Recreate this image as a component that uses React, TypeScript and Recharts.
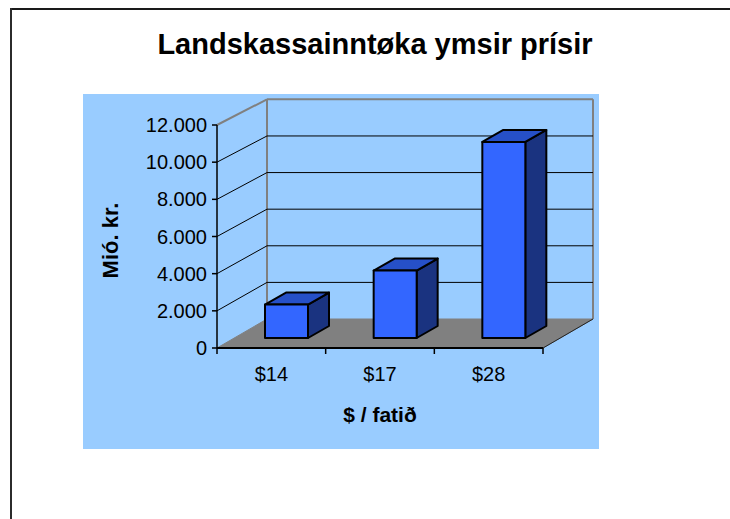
import { BarChart, Bar, XAxis, YAxis, CartesianGrid } from "recharts";

// prices per barrel and the matching state revenue (mió. kr.)
const categories = ["$14", "$17", "$28"];
const revenue = [1800, 3630, 10550];
const yTicks = [0, 2000, 4000, 6000, 8000, 10000, 12000];

const chartData = categories.map((name, i) => ({ name, value: revenue[i] }));

const FONT = "'Liberation Sans', Arial, Helvetica, sans-serif";
const BG = "#99CCFF";
const WALL_LINE = "#808080";
const FLOOR = "#808080";

// chart geometry
const CHART_W = 516;
const CHART_H = 355;
const MARGIN = { top: 31, right: 56, bottom: 0, left: 0 };
const Y_AXIS_W = 134;
const X_AXIS_H = 101;
const PLOT_TOP = MARGIN.top;
const PLOT_BOTTOM = CHART_H - MARGIN.bottom - X_AXIS_H;

// fake 3D: offset of the back wall, and where the bars sit in the depth
const WALL_DX = 50;
const WALL_DY = 29;
const BAR_DX = 15;
const BAR_DY = 10;
const DEPTH_DX = 21;
const DEPTH_DY = 12;

const X_TICK_SIZE = 6;
const X_TICK_MARGIN = 13;

const formatThousands = (v: number) =>
  v.toString().replace(/\B(?=(\d{3})+(?!\d))/g, ".");

// back wall is a touch smaller than the front plane
const backY = (y: number, bottom: number) => y - WALL_DY + (bottom - y) * 0.015;

function renderWallLine(p: any) {
  const { x1, x2, y1 } = p;
  const top = typeof p.y === "number" ? p.y : PLOT_TOP;
  const bottom = typeof p.height === "number" ? top + p.height : PLOT_BOTTOM;
  const by = backY(y1, bottom);
  const isTop = Math.abs(y1 - top) < 0.5;
  const isBottom = Math.abs(y1 - bottom) < 0.5;

  if (isBottom) {
    const topBack = backY(top, bottom);
    return (
      <g key={p.key}>
        <line x1={x1 + WALL_DX} y1={topBack} x2={x1 + WALL_DX} y2={by} stroke={WALL_LINE} strokeWidth={2} />
        <line x1={x2 + WALL_DX} y1={topBack} x2={x2 + WALL_DX} y2={by} stroke={WALL_LINE} strokeWidth={2} />
        <polygon
          points={`${x1},${y1} ${x2},${y1} ${x2 + WALL_DX},${by} ${x1 + WALL_DX},${by}`}
          fill={FLOOR}
          stroke={FLOOR}
          strokeWidth={1}
        />
        <line x1={x2} y1={y1} x2={x2 + WALL_DX} y2={by} stroke="#222" strokeWidth={1} />
      </g>
    );
  }

  const color = isTop ? WALL_LINE : "#000";
  const w = isTop ? 2 : 1;
  return (
    <g key={p.key}>
      <line x1={x1} y1={y1} x2={x1 + WALL_DX} y2={by} stroke={color} strokeWidth={w} />
      <line x1={x1 + WALL_DX} y1={by} x2={x2 + WALL_DX} y2={by} stroke={color} strokeWidth={w} />
    </g>
  );
}

function Bar3D(props: any) {
  const { x, y, width, height } = props;
  if (x == null || y == null) return null;
  const fx = x + BAR_DX;
  const r = fx + width;
  const top = y - BAR_DY;
  const bottom = y + height - BAR_DY;
  return (
    <g stroke="#000" strokeWidth={2} strokeLinejoin="round">
      <polygon
        points={`${r},${top} ${r + DEPTH_DX},${top - DEPTH_DY} ${r + DEPTH_DX},${bottom - DEPTH_DY} ${r},${bottom}`}
        fill="#1A3380"
      />
      <polygon
        points={`${fx},${top} ${fx + DEPTH_DX},${top - DEPTH_DY} ${r + DEPTH_DX},${top - DEPTH_DY} ${r},${top}`}
        fill="#2650C8"
      />
      <rect x={fx} y={top} width={width} height={bottom - top} fill="#3366FF" />
    </g>
  );
}

// category ticks sit on the band edges, labels in the middle
function XTick(props: any) {
  const { x, y, payload, index, visibleTicksCount } = props;
  const half = payload && typeof payload.offset === "number" && payload.offset > 0 ? payload.offset : 54.33;
  const ay = y - X_TICK_SIZE - X_TICK_MARGIN;
  return (
    <g>
      <line x1={x - half} y1={ay} x2={x - half} y2={ay + X_TICK_SIZE} stroke="#000" strokeWidth={1.5} />
      {index === visibleTicksCount - 1 && (
        <line x1={x + half} y1={ay} x2={x + half} y2={ay + X_TICK_SIZE} stroke="#000" strokeWidth={1.5} />
      )}
      <text x={x} y={y} dy="0.71em" textAnchor="middle" fontSize={20} fontFamily={FONT} fill="#000">
        {payload.value}
      </text>
    </g>
  );
}

function YTitle({ viewBox }: any) {
  const vb = viewBox && typeof viewBox.x === "number"
    ? viewBox
    : { x: 0, y: PLOT_TOP, width: Y_AXIS_W, height: PLOT_BOTTOM - PLOT_TOP };
  const cx = vb.x + 27;
  const cy = vb.y + vb.height / 2 + 4;
  return (
    <text
      x={cx}
      y={cy}
      transform={`rotate(-90, ${cx}, ${cy})`}
      textAnchor="middle"
      dominantBaseline="central"
      fontFamily={FONT}
      fontSize={22}
      fontWeight="bold"
      fill="#000"
    >
      Mió. kr.
    </text>
  );
}

export default function App() {
  return (
    <div style={{ position: "absolute", left: 0, top: 0, width: 730, height: 519, overflow: "hidden", background: "#fff" }}>
      {/* page frame: only the top and left edges show */}
      <div style={{ position: "absolute", left: 10, top: 8, width: 720, height: 2, background: "#1a1a1a" }} />
      <div style={{ position: "absolute", left: 10, top: 8, width: 2, height: 511, background: "#2b2b2b" }} />
      <div
        style={{
          position: "absolute",
          left: 40,
          top: 30,
          width: 670,
          textAlign: "center",
          fontFamily: FONT,
          fontWeight: "bold",
          fontSize: 29,
          lineHeight: "29px",
          color: "#000",
          whiteSpace: "nowrap",
        }}
      >
        Landskassainntøka ymsir prísir
      </div>
      <div style={{ position: "absolute", left: 83, top: 94, width: CHART_W, height: CHART_H, background: BG }}>
        <BarChart width={CHART_W} height={CHART_H} data={chartData} margin={MARGIN}>
          <CartesianGrid vertical={false} horizontal={renderWallLine} fill="none" />
          <XAxis
            dataKey="name"
            height={X_AXIS_H}
            axisLine={{ stroke: "#000", strokeWidth: 2 }}
            tickLine={false}
            tickSize={X_TICK_SIZE}
            tickMargin={X_TICK_MARGIN}
            tick={<XTick />}
            label={{
              value: "$ / fatið",
              position: "insideBottom",
              offset: 27,
              fill: "#000",
              fontSize: 21,
              fontWeight: "bold",
              fontFamily: FONT,
              style: { fontWeight: "bold", fontSize: 21, fill: "#000", fontFamily: FONT },
            }}
          />
          <YAxis
            width={Y_AXIS_W}
            domain={[0, 12000]}
            ticks={yTicks}
            interval={0}
            tickFormatter={formatThousands}
            axisLine={{ stroke: "#000", strokeWidth: 1.5 }}
            tickLine={{ stroke: "#000", strokeWidth: 1.5 }}
            tickSize={5}
            tickMargin={5}
            tick={{ fontSize: 20, fontFamily: FONT, fill: "#000" }}
            label={<YTitle />}
          />
          <Bar dataKey="value" barSize={43} shape={(p: any) => <Bar3D {...p} />} isAnimationActive={false} />
        </BarChart>
      </div>
    </div>
  );
}
